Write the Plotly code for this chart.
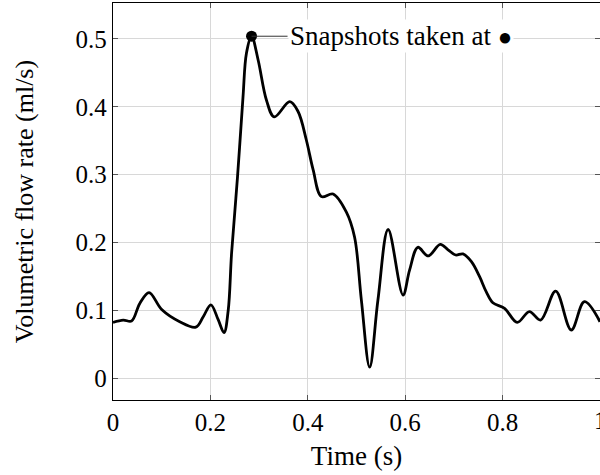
import plotly.graph_objects as go

time_s = [0.0, 0.021, 0.038, 0.055, 0.074, 0.100, 0.137, 0.170, 0.185, 0.201, 0.216, 0.228, 0.2366,
          0.2435, 0.2557, 0.267, 0.274, 0.2845, 0.298, 0.315, 0.331, 0.363, 0.380, 0.397, 0.411,
          0.428, 0.452, 0.479, 0.496, 0.510, 0.527, 0.544, 0.565, 0.5955, 0.609, 0.626, 0.647,
          0.672, 0.688, 0.7036, 0.7186, 0.736, 0.753, 0.7665, 0.780, 0.804, 0.830, 0.855, 0.878,
          0.909, 0.941, 0.968, 1.0]
flow_ml_s = [0.082, 0.0855, 0.084, 0.110, 0.126, 0.101, 0.083, 0.075, 0.090, 0.108, 0.086, 0.067,
             0.100, 0.184, 0.297, 0.415, 0.479, 0.504, 0.469, 0.410, 0.385, 0.4075, 0.393, 0.351,
             0.307, 0.2675, 0.2714, 0.245, 0.208, 0.115, 0.016, 0.115, 0.219, 0.1224, 0.159, 0.1928,
             0.180, 0.197, 0.189, 0.1814, 0.183, 0.1715, 0.149, 0.127, 0.111, 0.1028, 0.082, 0.098,
             0.0855, 0.128, 0.0708, 0.1126, 0.083]

snapshot_t = [0.2845]
snapshot_v = [0.504]

x_ticks = [0, 0.2, 0.4, 0.6, 0.8, 1]
x_labels = ["0", "0.2", "0.4", "0.6", "0.8", "1"]
y_ticks = [0, 0.1, 0.2, 0.3, 0.4, 0.5]
y_labels = ["0", "0.1", "0.2", "0.3", "0.4", "0.5"]

FONT = "Liberation Serif, Times New Roman, serif"

fig = go.Figure()
fig.add_trace(go.Scatter(x=time_s, y=flow_ml_s, mode="lines",
                         line=dict(color="black", width=2.8, shape="spline", smoothing=1.0),
                         showlegend=False, hoverinfo="skip"))
fig.add_trace(go.Scatter(x=snapshot_t, y=snapshot_v, mode="markers",
                         marker=dict(color="black", size=11), showlegend=False))

fig.add_annotation(x=snapshot_t[0], y=snapshot_v[0], xref="x", yref="y",
                   text="Snapshots taken at <span style='font-size:24px'>●</span>",
                   showarrow=True, arrowhead=0, arrowwidth=1, arrowcolor="#333333",
                   ax=36, ay=0, axref="pixel", ayref="pixel",
                   xanchor="left", yanchor="middle", bgcolor="white", borderpad=1,
                   font=dict(family=FONT, size=27, color="black"))

# last x tick label (partly cut by the right edge, as in the reference)
fig.add_annotation(x=x_ticks[-1], y=0, xref="x", yref="paper", text=x_labels[-1],
                   showarrow=False, xanchor="center", yanchor="top", yshift=-5,
                   font=dict(family=FONT, size=25, color="black"))

fig.update_layout(
    width=600, height=475,
    margin=dict(l=113, r=0, t=3, b=75),
    paper_bgcolor="white", plot_bgcolor="white",
    font=dict(family=FONT, size=25, color="black"),
    xaxis=dict(range=[0, 1], tickvals=x_ticks, ticktext=x_labels,
               showgrid=True, gridcolor="#d8d8d8", gridwidth=1,
               showline=True, linecolor="black", linewidth=1.4, mirror="ticks",
               ticks="inside", ticklen=5, tickcolor="#555555",
               zeroline=False, automargin=False,
               title=dict(text="Time (s)", font=dict(size=27), standoff=10)),
    yaxis=dict(range=[-0.0324, 0.553], tickvals=y_ticks, ticktext=y_labels,
               showgrid=True, gridcolor="#d8d8d8", gridwidth=1,
               showline=True, linecolor="black", linewidth=1.4, mirror="ticks",
               ticks="inside", ticklen=5, tickcolor="#555555",
               zeroline=False, automargin=False,
               title=dict(text="Volumetric flow rate (ml/s)", font=dict(size=26), standoff=34)),
)

fig.write_html("out.html")
